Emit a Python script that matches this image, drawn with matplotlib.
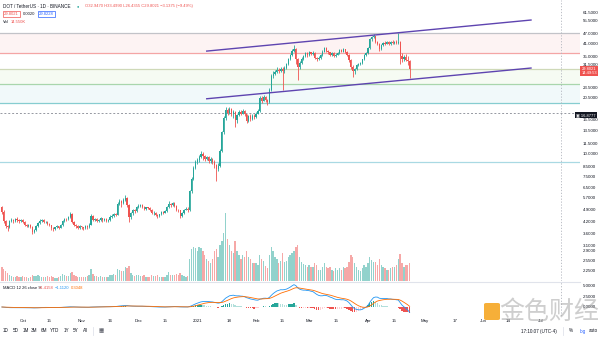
import numpy as np
import pandas as pd
import matplotlib
matplotlib.use('Agg')
import matplotlib.pyplot as plt
import matplotlib.dates as mdates
from matplotlib.patches import FancyBboxPatch

plt.rcParams['font.family'] = ['Liberation Sans', 'DejaVu Sans', 'Noto Sans CJK SC']

# %% Data (daily DOT/USDT candles)

start_day = '2020-09-20'
first_open = 5.05

closes = [
    # Sep 20-30
    4.78, 4.22, 3.96, 3.92, 4.24, 4.30, 4.21, 4.34, 4.27, 4.22, 4.29,
    # Oct
    4.20, 4.05, 3.98, 4.02, 3.92, 3.70, 3.78, 3.95, 4.15, 4.22, 4.30, 4.18, 4.20, 4.08, 4.02, 3.85,
    3.80, 3.90, 3.95, 3.88, 4.02, 4.25, 4.35, 4.32, 4.45, 4.65, 4.20, 4.05, 3.95, 3.88, 3.95,
    # Nov
    3.90, 3.85, 3.95, 3.92, 4.05, 4.52, 4.30, 4.36, 4.25, 4.30, 4.38, 4.28, 4.35, 4.25, 4.30,
    4.48, 4.52, 4.62, 4.60, 5.30, 5.45, 5.35, 5.55, 5.70, 5.20, 4.45, 4.68, 4.85, 4.80, 5.05,
    # Dec
    5.15, 5.20, 5.10, 4.95, 5.05, 5.00, 4.90, 4.70, 4.72, 4.60, 4.50, 4.62, 4.75, 4.72, 4.80, 5.05,
    5.30, 5.20, 5.35, 5.15, 4.90, 4.85, 4.52, 4.70, 4.90, 4.95, 4.85, 6.20, 7.30, 8.40, 9.00,
    # Jan
    9.30, 9.60, 10.05, 9.70, 9.40, 9.65, 9.10, 9.35, 9.05, 8.70, 8.30, 8.60, 10.40, 13.20, 15.80, 17.50,
    17.00, 17.80, 16.60, 17.20, 15.40, 16.40, 17.20, 16.80, 17.40, 16.60, 15.30, 16.20, 15.60, 16.30, 16.00,
    # Feb
    16.80, 17.30, 20.50, 19.80, 20.80, 19.90, 19.40, 22.80, 27.20, 28.00, 28.60, 29.50, 29.00, 29.80,
    28.80, 30.20, 31.60, 33.80, 35.50, 37.60, 38.60, 34.00, 30.40, 32.20, 33.80, 35.00, 36.40, 35.80,
    # Mar
    36.80, 36.00, 36.60, 34.20, 33.60, 34.40, 35.60, 37.20, 38.80, 37.60, 36.80, 35.60, 36.40, 35.20, 35.80, 36.60,
    37.80, 37.20, 38.20, 37.00, 35.80, 33.20, 30.60, 28.80, 29.60, 31.20, 31.60, 32.00, 33.60, 35.80, 36.40,
    # Apr 1-23
    38.80, 43.60, 44.80, 45.20, 42.20, 41.00, 38.40, 40.20, 41.60, 41.20, 41.80, 41.00, 41.90, 41.30, 42.10,
    41.50, 41.90, 35.20, 33.60, 34.80, 33.40, 32.947, 29.8021,
]

highs = [
    5.15, 4.85, 4.28, 4.05, 4.30, 4.38, 4.36, 4.42, 4.45, 4.33, 4.36,
    4.34, 4.24, 4.10, 4.08, 4.06, 3.96, 3.84, 4.00, 4.20, 4.32, 4.36, 4.34, 4.26, 4.24, 4.12, 4.05,
    3.90, 3.94, 4.00, 3.98, 4.08, 4.30, 4.42, 4.40, 4.52, 4.75, 4.68, 4.26, 4.10, 4.00, 4.00,
    3.98, 3.94, 4.00, 4.02, 4.12, 4.62, 4.58, 4.42, 4.40, 4.36, 4.44, 4.42, 4.40, 4.38, 4.35,
    4.55, 4.62, 4.72, 4.68, 5.38, 5.60, 5.55, 5.68, 5.92, 5.78, 5.25, 4.75, 4.92, 4.95, 5.15,
    5.28, 5.30, 5.26, 5.14, 5.10, 5.10, 5.04, 4.94, 4.80, 4.76, 4.64, 4.66, 4.82, 4.80, 4.86, 5.12,
    5.45, 5.34, 5.42, 5.40, 5.18, 4.95, 4.88, 4.76, 4.96, 5.05, 5.10, 6.30, 7.45, 8.60, 9.25,
    9.55, 9.85, 10.40, 10.30, 9.90, 9.80, 9.75, 9.60, 9.45, 9.20, 8.80, 8.95, 10.60, 13.50, 16.30, 18.20,
    18.00, 18.30, 18.10, 17.60, 17.40, 16.80, 17.60, 17.50, 17.90, 17.60, 16.80, 16.50, 16.60, 16.60, 16.60,
    17.10, 17.70, 20.90, 21.00, 21.20, 21.10, 20.20, 23.40, 27.80, 28.80, 29.50, 30.40, 30.20, 30.60,
    30.40, 30.80, 32.20, 34.40, 36.20, 38.40, 40.60, 38.90, 34.40, 33.00, 34.60, 35.80, 37.00, 36.90,
    37.40, 37.20, 37.60, 36.90, 34.80, 34.90, 36.00, 37.80, 39.40, 39.20, 38.00, 37.20, 37.00, 36.80, 36.40, 37.20,
    38.40, 38.60, 38.80, 38.60, 37.40, 36.20, 33.60, 31.40, 30.20, 31.60, 32.20, 32.60, 34.00, 36.20, 37.00,
    39.40, 44.20, 45.60, 46.40, 45.60, 42.80, 41.60, 40.80, 42.20, 42.40, 42.60, 42.40, 42.80, 43.00, 42.80,
    43.20, 47.20, 42.40, 36.40, 35.60, 36.00, 35.20, 33.499,
]

lows = [
    4.62, 4.12, 3.85, 3.72, 3.88, 4.18, 4.12, 4.16, 4.20, 4.14, 4.16,
    4.12, 3.96, 3.92, 3.94, 3.86, 3.58, 3.64, 3.74, 3.92, 4.10, 4.18, 4.12, 4.12, 4.02, 3.96, 3.78,
    3.74, 3.77, 3.85, 3.82, 3.85, 3.98, 4.20, 4.26, 4.28, 4.40, 4.12, 3.98, 3.86, 3.80, 3.84,
    3.84, 3.76, 3.80, 3.84, 3.88, 4.02, 4.22, 4.24, 4.18, 4.20, 4.26, 4.20, 4.22, 4.18, 4.20,
    4.26, 4.42, 4.45, 4.50, 4.58, 5.22, 5.10, 5.30, 5.45, 5.10, 4.20, 4.35, 4.60, 4.72, 4.76,
    4.98, 5.06, 5.02, 4.86, 4.90, 4.94, 4.84, 4.62, 4.55, 4.52, 4.38, 4.46, 4.58, 4.66, 4.68, 4.76,
    5.00, 5.10, 5.16, 5.08, 4.82, 4.76, 4.40, 4.48, 4.66, 4.85, 4.78, 4.82, 6.05, 7.20, 8.20,
    8.75, 9.05, 9.45, 9.20, 9.10, 9.20, 8.95, 8.90, 8.85, 8.40, 7.10, 8.05, 8.50, 10.30, 13.00, 15.50,
    16.40, 16.70, 16.20, 15.80, 14.20, 14.90, 16.20, 16.40, 16.60, 16.30, 14.80, 15.10, 15.20, 15.40, 15.70,
    15.80, 16.60, 17.20, 19.20, 19.60, 19.50, 18.80, 19.20, 22.40, 26.40, 27.50, 28.20, 28.40, 28.60,
    22.60, 28.40, 29.80, 31.20, 33.20, 35.00, 37.00, 31.50, 25.80, 29.60, 31.80, 33.20, 34.60, 34.80,
    35.20, 35.40, 35.60, 33.60, 32.80, 33.20, 34.00, 35.20, 36.80, 37.00, 36.20, 35.00, 35.20, 34.80, 34.60, 35.40,
    36.20, 36.80, 36.90, 36.60, 35.20, 32.60, 29.80, 26.80, 27.80, 29.20, 30.80, 31.20, 31.60, 33.20, 35.20,
    36.00, 38.40, 42.80, 44.00, 41.60, 40.20, 37.60, 38.00, 39.80, 40.60, 40.80, 40.40, 40.60, 40.80, 40.90,
    40.80, 41.00, 31.80, 32.60, 32.80, 32.90, 31.40, 26.4355,
]

# daily volume, million DOT
volumes = [
    14, 12, 10, 8, 6, 5, 4, 4, 5, 4, 4,
    5, 4, 4, 3, 4, 6, 5, 5, 6, 5, 4, 4, 4, 5, 4, 5, 4, 3, 3, 4, 5, 7, 6, 5, 5, 8, 9, 6, 5, 4, 4,
    4, 4, 4, 5, 6, 12, 7, 5, 5, 4, 5, 4, 4, 4, 4, 6, 6, 7, 6, 12, 11, 10, 10, 14, 13, 15, 8, 6, 5, 6,
    6, 5, 5, 6, 4, 4, 4, 6, 5, 5, 6, 4, 4, 4, 4, 6, 9, 6, 6, 6, 7, 6, 8, 6, 5, 4, 5, 22, 32, 34, 33,
    30, 34, 33, 30, 26, 22, 20, 18, 22, 30, 32, 24, 36, 40, 48, 68, 42, 36, 30, 28, 40, 30, 26, 22, 26, 24, 30, 24, 22, 18, 18,
    18, 16, 26, 22, 20, 15, 13, 26, 34, 30, 24, 22, 18, 20, 28, 19, 20, 24, 26, 28, 30, 34, 36, 24, 19, 17, 16, 14,
    16, 14, 14, 18, 16, 11, 11, 14, 18, 14, 13, 14, 11, 10, 13, 11, 13, 11, 14, 13, 14, 19, 26, 24, 18, 14, 11, 10, 13, 16, 14,
    18, 24, 21, 19, 19, 16, 22, 16, 14, 13, 11, 11, 13, 14, 14, 16, 22, 27, 18, 14, 16, 16, 18,
]

# horizontal levels drawn on the chart
level_prices = [47.4, 36.5, 29.9, 24.5, 19.2, 9.03]
level_colors = ['#c2c3c8', '#f4a5a5', '#cfd9b8', '#a9d6ac', '#86cdd0', '#a9d9e3']
zone_bounds = [(36.5, 47.4), (24.5, 29.9), (19.2, 24.5)]
zone_colors = ['#fdf3f3', '#f6fbf3', '#f1f9fa']
marker_price = 16.8777

# rising channel (purple)
channel_dates = ['2021-01-06', '2021-06-26']
channel_upper = [37.4, 55.7]
channel_lower = [20.3, 30.1]

price_ticks = [61.5, 55.5, 47.0, 41.0, 35.0, 31.5, 23.5, 20.5, 15.5, 13.5, 11.5, 10.0,
               8.5, 7.5, 6.5, 5.7, 4.9, 4.2, 3.6, 3.1, 2.9, 2.55, 2.25]
macd_ticks = [0.0, 2.5, 5.0]

time_ticks = ['2020-10-01', '2020-10-15', '2020-11-01', '2020-11-16', '2020-12-01', '2020-12-15',
              '2021-01-01', '2021-01-18', '2021-02-01', '2021-02-15', '2021-03-01', '2021-03-15',
              '2021-04-01', '2021-04-15', '2021-05-01', '2021-05-17', '2021-06-01', '2021-06-14',
              '2021-07-01']
time_labels = ['Oct', '15', 'Nov', '16', 'Dec', '15', '2021', '18', 'Feb', '15', 'Mar', '15',
               'Apr', '15', 'May', '17', 'Jun', '14', 'Jul']

range_buttons = ['1D', '5D', '1M', '3M', '6M', 'YTD', '1Y', '5Y', 'All']

# %% Build frame

dates = pd.date_range(start_day, periods=len(closes), freq='D')
df = pd.DataFrame({'close': closes, 'high': highs, 'low': lows, 'vol': volumes}, index=dates)
df['open'] = [first_open] + closes[:-1]
df['up'] = df['close'] >= df['open']

#MACD 12 26 9
ema12 = df['close'].ewm(span=12, adjust=False).mean()
ema26 = df['close'].ewm(span=26, adjust=False).mean()
df['macd'] = ema12 - ema26
df['signal'] = df['macd'].ewm(span=9, adjust=False).mean()
df['hist'] = df['macd'] - df['signal']

UP = '#26a69a'
DOWN = '#ef5350'
TXT = '#131722'
FS = 3.2

# %% Figure

W, H = 600, 337
fig = plt.figure(figsize=(6, 3.37), dpi=100)
fig.patch.set_facecolor('white')

def fx(px):
    return px / W

def fy(py):
    return 1 - py / H

xmin = mdates.date2num(pd.Timestamp('2020-09-19'))
xmax = mdates.date2num(pd.Timestamp('2021-07-21 20:00'))
xd = mdates.date2num(df.index)
vline_day = mdates.date2num(pd.Timestamp('2021-07-12'))

ax = fig.add_axes([0, fy(281), fx(580), 281 / H])
vax = ax.twinx()
vax.set_zorder(ax.get_zorder() - 1)
ax.patch.set_visible(False)

#Volume overlay
vcol = np.where(df['up'], UP, DOWN)
vax.bar(xd, df['vol'], width=0.7, color=vcol, alpha=0.5, linewidth=0)
vax.set_ylim(0, 281)
vax.set_xlim(xmin, xmax)
vax.axis('off')

#Zones and level lines
for (lo, hi), c in zip(zone_bounds, zone_colors):
    ax.axhspan(lo, hi, color=c, lw=0, zorder=0)
for p, c in zip(level_prices, level_colors):
    ax.axhline(p, color=c, lw=0.9, zorder=1)
ax.axhline(marker_price, color='#9598a1', lw=0.7, ls=(0, (2, 2)), zorder=1)
ax.axvline(vline_day, color='#b2b5be', lw=0.6, ls=(0, (1.5, 2)), zorder=1)

#Candles
ccol = np.where(df['up'], UP, DOWN)
ax.vlines(xd, df['low'], df['high'], colors=ccol, lw=0.6, zorder=3)
body_lo = np.minimum(df['open'], df['close'])
body_h = np.abs(df['close'] - df['open'])
ax.bar(xd, body_h, bottom=body_lo, width=0.62, color=ccol, linewidth=0, zorder=4)

#Channel
cx = mdates.date2num(pd.to_datetime(channel_dates))
ax.plot(cx, channel_upper, color='#5e44b0', lw=1.0, zorder=5)
ax.plot(cx, channel_lower, color='#5e44b0', lw=1.0, zorder=5)

ax.set_yscale('log')
ax.set_ylim(1.963, 72.0)
ax.set_xlim(xmin, xmax)
for s in ax.spines.values():
    s.set_visible(False)
ax.set_xticks([])
ax.yaxis.tick_right()
ax.set_yticks(price_ticks)
ax.set_yticklabels([f'{t:.4f}' for t in price_ticks])
ax.yaxis.set_minor_locator(matplotlib.ticker.NullLocator())
ax.tick_params(axis='y', length=0, pad=2, labelsize=FS, labelcolor=TXT)

#Price labels on the scale
fig.text(fx(581.5), fy(71), '29.8021\n14:49:53', fontsize=2.9, color='white', ha='left', va='center',
         linespacing=1.05, bbox=dict(boxstyle='square,pad=0.25', fc=DOWN, ec='none'))
fig.text(fx(576), fy(115), '\u25a3 16.8777', fontsize=2.9, color='white', ha='left', va='center',
         bbox=dict(boxstyle='square,pad=0.3', fc='#131722', ec='none'))

#Separator
fig.add_artist(plt.Line2D([0, fx(580)], [fy(281.5)] * 2, color='#e0e3eb', lw=0.8))

# %% MACD pane
mx = fig.add_axes([0, fy(316), fx(580), 34 / H])
h = df['hist'].values
dh = np.diff(h, prepend=h[0])
hcol = np.where(h >= 0, np.where(dh >= 0, UP, '#b2dfdb'), np.where(dh >= 0, '#ffcdd2', DOWN))
mx.bar(xd, h, width=0.7, color=hcol, linewidth=0)
mx.plot(xd, df['macd'], color='#2196f3', lw=0.6)
mx.plot(xd, df['signal'], color='#ff6d00', lw=0.6)
top = df['macd'].max() * 1.12
mx.set_ylim(-0.36 * top, top)
mx.set_xlim(xmin, xmax)
mx.axvline(vline_day, color='#b2b5be', lw=0.6, ls=(0, (1.5, 2)))
for s in mx.spines.values():
    s.set_visible(False)
mx.yaxis.tick_right()
mx.set_yticks(macd_ticks)
mx.set_yticklabels([f'{t:.4f}' for t in macd_ticks])
mx.tick_params(axis='y', length=0, pad=2, labelsize=FS, labelcolor=TXT)
mx.set_xticks(mdates.date2num(pd.to_datetime(time_ticks)))
mx.set_xticklabels(time_labels)
mx.tick_params(axis='x', length=0, pad=2.5, labelsize=FS, labelcolor=TXT)
mx.patch.set_visible(False)

# %% Header texts
fig.text(fx(3), fy(6), 'DOT / TetherUS \u00b7 1D \u00b7 BINANCE', fontsize=3.3, color=TXT, va='center')
fig.text(fx(77), fy(6), '\u25cf', fontsize=2.8, color=UP, va='center')
fig.text(fx(85), fy(6), 'O32.9470 H33.4990 L26.4355 C29.8021 \u22123.1375 (\u22129.49%)',
         fontsize=3.0, color=DOWN, va='center')
fig.text(fx(4), fy(14), '29.8021', fontsize=3.0, color=DOWN, va='center',
         bbox=dict(boxstyle='square,pad=0.35', fc='white', ec=DOWN, lw=0.5))
fig.text(fx(23), fy(14), '0.0020', fontsize=3.0, color=TXT, va='center')
fig.text(fx(39), fy(14), '29.8228', fontsize=3.0, color='#2962ff', va='center',
         bbox=dict(boxstyle='square,pad=0.35', fc='white', ec='#2962ff', lw=0.5))
fig.text(fx(3), fy(22), 'Vol', fontsize=3.0, color=TXT, va='center')
fig.text(fx(11), fy(22), '14.550K', fontsize=3.0, color=DOWN, va='center')

fig.text(fx(3), fy(288), 'MACD 12 26 close 9', fontsize=3.0, color=TXT, va='center')
fig.text(fx(39), fy(288), '\u22121.4158', fontsize=3.0, color=DOWN, va='center')
fig.text(fx(55), fy(288), '\u22121.1120', fontsize=3.0, color='#2196f3', va='center')
fig.text(fx(71), fy(288), '0.3048', fontsize=3.0, color='#ff6d00', va='center')

# %% Bottom toolbar
button_x = [6, 15.5, 25.5, 34.5, 44, 55, 67, 76, 86]
for bx, lab in zip(button_x, range_buttons):
    fig.text(fx(bx), fy(331), lab, fontsize=3.3, color=TXT, va='center', ha='center')
fig.add_artist(plt.Line2D([fx(93), fx(93)], [fy(327), fy(335)], color='#e0e3eb', lw=0.6))
fig.text(fx(101), fy(331), '\u25a6', fontsize=4, color='#50535e', va='center', ha='center')
fig.text(fx(539), fy(331), '17:10:07 (UTC-4)', fontsize=3.3, color=TXT, va='center', ha='center')
fig.add_artist(plt.Line2D([fx(563), fx(563)], [fy(327), fy(335)], color='#e0e3eb', lw=0.6))
fig.text(fx(571), fy(331), '%', fontsize=3.3, color=TXT, va='center', ha='center')
fig.text(fx(582.5), fy(331), 'log', fontsize=3.3, color='#2962ff', va='center', ha='center')
fig.text(fx(593.5), fy(331), 'auto', fontsize=3.3, color=TXT, va='center', ha='center')

# %% Watermark
logo = FancyBboxPatch((fx(484), fy(320)), fx(16), 17 / H, boxstyle='round,pad=0,rounding_size=0.004',
                      transform=fig.transFigure, fc='#f5a623', ec='none', alpha=0.9)
fig.add_artist(logo)
fig.text(fx(549), fy(312), '金色财经', fontsize=18, color='#9e9e9e', alpha=0.5, ha='center', va='center',
         family=['Noto Sans CJK SC', 'DejaVu Sans'])

fig.savefig('out.png', dpi=100, facecolor='white')
